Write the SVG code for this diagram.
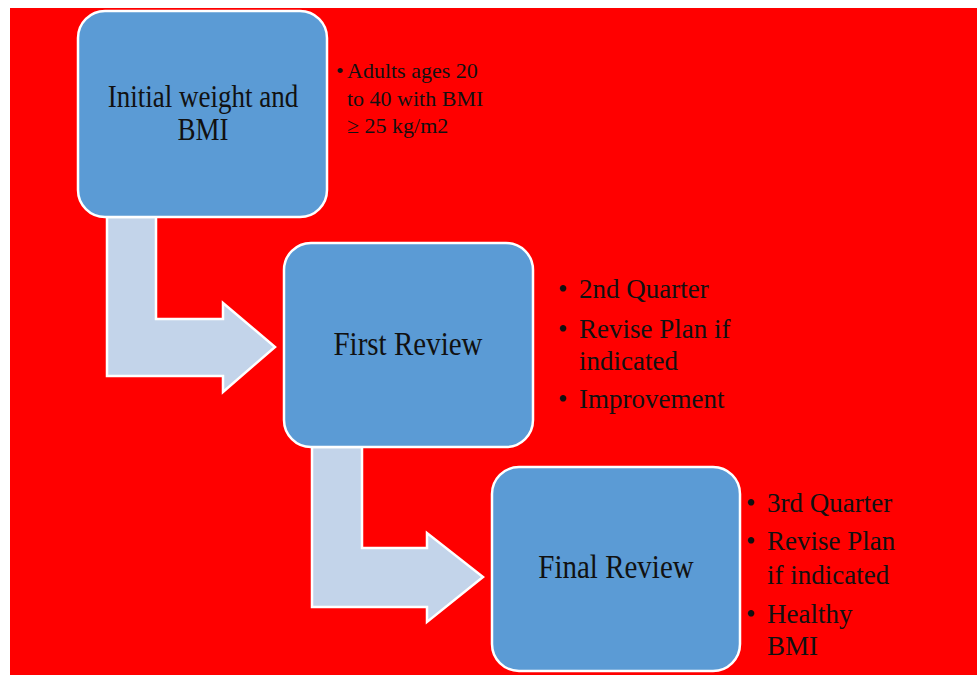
<svg xmlns="http://www.w3.org/2000/svg" width="977" height="675" viewBox="0 0 977 675">
<style>
.box{fill:#5B9BD5;stroke:#FFFFFF;stroke-width:2.5}
.arrow{fill:#C3D4EA;stroke:#FFFFFF;stroke-width:2.5;stroke-linejoin:miter}
.title{font-family:"Liberation Serif",serif;font-size:27px;fill:#111111;text-anchor:middle}
.t29{font-size:29px}
.bul{font-family:"Liberation Serif",serif;font-size:27px;fill:#111111}
.small{font-size:22px}
</style>
<rect x="0" y="0" width="977" height="675" fill="#FFFFFF"/>
<rect x="10" y="8" width="967" height="667" fill="#FF0000"/>
<g id="connectors">
<path class="arrow" d="M107 217 L156 217 L156 319 L223 319 L223 303 L275 347 L223 392 L223 376 L107 376 Z"/>
<path class="arrow" d="M312 447 L362 447 L362 548 L427 548 L427 533 L483 577 L427 622 L427 607 L312 607 Z"/>
</g>
<g id="node1">
<rect class="box" x="78" y="11" width="249" height="206" rx="27"/>
<text class="title" transform="translate(203,107) scale(1,1.16)">Initial weight and</text>
<text class="title" transform="translate(203,140) scale(1,1.16)">BMI</text>
</g>
<g id="notes1">
<text class="bul small" x="336" y="78">•</text>
<text class="bul small" x="347" y="78">Adults ages 20</text>
<text class="bul small" x="347" y="106">to 40 with BMI</text>
<text class="bul small" x="347" y="133">≥ 25 kg/m2</text>
</g>
<g id="node2">
<rect class="box" x="284" y="243" width="249" height="204" rx="27"/>
<text class="title t29" transform="translate(408,355) scale(1,1.15)">First Review</text>
</g>
<g id="notes2">
<text class="bul" x="558" y="298">•</text>
<text class="bul" x="579" y="298">2nd Quarter</text>
<text class="bul" x="558" y="338">•</text>
<text class="bul" x="579" y="338">Revise Plan if</text>
<text class="bul" x="579" y="370">indicated</text>
<text class="bul" x="558" y="408">•</text>
<text class="bul" x="579" y="408">Improvement</text>
</g>
<g id="node3">
<rect class="box" x="492" y="467" width="248" height="204" rx="27"/>
<text class="title t29" transform="translate(616,578) scale(1,1.15)">Final Review</text>
</g>
<g id="notes3">
<text class="bul" x="746" y="512">•</text>
<text class="bul" x="767" y="512">3rd Quarter</text>
<text class="bul" x="746" y="550">•</text>
<text class="bul" x="767" y="550">Revise Plan</text>
<text class="bul" x="767" y="584">if indicated</text>
<text class="bul" x="746" y="623">•</text>
<text class="bul" x="767" y="623">Healthy</text>
<text class="bul" x="767" y="655">BMI</text>
</g>
</svg>
